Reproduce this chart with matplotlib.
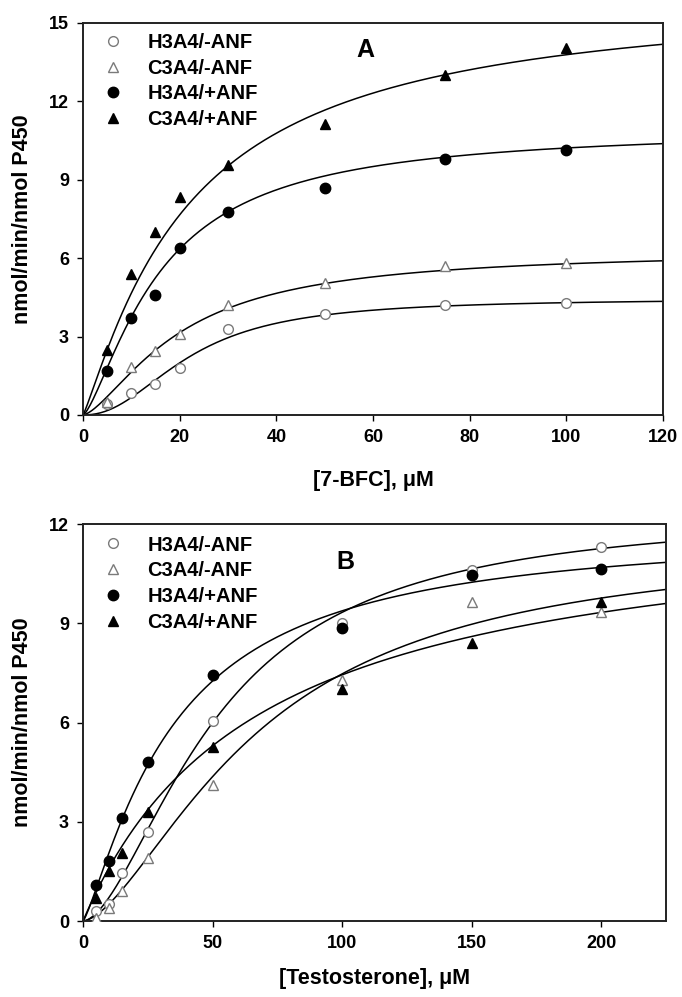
import numpy as np
import matplotlib
matplotlib.use("Agg")
import matplotlib.pyplot as plt

plt.rcParams['font.family'] = ['Liberation Sans', 'DejaVu Sans']
plt.rcParams['font.weight'] = 'bold'

labels = ['H3A4/-ANF', 'C3A4/-ANF', 'H3A4/+ANF', 'C3A4/+ANF']

# panel A: 7-BFC
bfc_x = [5, 10, 15, 20, 30, 50, 75, 100]
bfc_h_minus = [0.4, 0.85, 1.2, 1.8, 3.3, 3.85, 4.2, 4.3]
bfc_c_minus = [0.5, 1.85, 2.45, 3.1, 4.2, 5.05, 5.7, 5.8]
bfc_h_plus = [1.7, 3.7, 4.6, 6.4, 7.75, 8.7, 9.8, 10.15]
bfc_c_plus = [2.5, 5.4, 7.0, 8.35, 9.55, 11.15, 13.0, 14.05]
# Hill fit params (Vmax, S50, n)
bfc_fits = [(4.45, 22, 2.2), (6.3, 20, 1.5), (11.0, 16, 1.4), (16.2, 22, 1.15)]

# panel B: testosterone
tst_x = [5, 10, 15, 25, 50, 100, 150, 200]
tst_h_minus = [0.3, 0.5, 1.45, 2.7, 6.05, 9.0, 10.6, 11.3]
tst_c_minus = [0.1, 0.4, 0.9, 1.9, 4.1, 7.3, 9.65, 9.35]
tst_h_plus = [1.1, 1.8, 3.1, 4.8, 7.45, 8.85, 10.45, 10.65]
tst_c_plus = [0.7, 1.5, 2.05, 3.3, 5.25, 7.0, 8.4, 9.65]
tst_fits = [(12.4, 52, 1.7), (11.5, 68, 1.6), (11.9, 35, 1.25), (12.5, 68, 1.0)]

styles = [dict(marker='o', mfc='white', mec='#7a7a7a', ms=7, mew=1.0),
          dict(marker='^', mfc='white', mec='#7a7a7a', ms=7, mew=1.0),
          dict(marker='o', mfc='black', mec='black', ms=7.5),
          dict(marker='^', mfc='black', mec='black', ms=7.5)]


def hill(s, vmax, k, n):
    return vmax * s**n / (k**n + s**n)


def panel(ax, x, series, fits, xmax, ymax, yticks, xticks, xlabel, letter, letter_xy, leg_top):
    xs = np.linspace(0, xmax, 400)
    for (vm, k, n) in fits:
        ax.plot(xs, hill(xs, vm, k, n), color='black', lw=1.1, zorder=2)
    for y, st, lab in zip(series, styles, labels):
        ax.plot(x, y, ls='none', label=lab, zorder=3, **st)
    ax.set_xlim(0, xmax)
    ax.set_ylim(0, ymax)
    ax.set_xticks(xticks)
    ax.set_yticks(yticks)
    ax.tick_params(direction='out', length=4, width=1, labelsize=13, pad=6)
    for sp in ax.spines.values():
        sp.set_linewidth(1.4)
        sp.set_color('#222222')
    ax.set_xlabel(xlabel, fontsize=15.5, fontweight='bold')
    ax.set_ylabel('nmol/min/nmol P450', fontsize=15.5, fontweight='bold')
    ax.yaxis.set_label_coords(-0.086, 0.5)
    ax.text(letter_xy[0], letter_xy[1], letter, transform=ax.transAxes,
            fontsize=18, fontweight='bold', ha='center', va='center')
    ax.legend(loc='upper left', bbox_to_anchor=(0.0345, leg_top), frameon=False,
              fontsize=14.5, handlelength=1.0, handletextpad=1.2,
              labelspacing=0.34, borderpad=0, borderaxespad=0, numpoints=1)


fig = plt.figure(figsize=(6.82, 9.97), dpi=100)
ax1 = fig.add_axes([0.1217, 0.5838, 0.8504, 0.3932])
ax2 = fig.add_axes([0.1217, 0.0762, 0.8548, 0.3982])

panel(ax1, bfc_x, [bfc_h_minus, bfc_c_minus, bfc_h_plus, bfc_c_plus], bfc_fits,
      120, 15, [0, 3, 6, 9, 12, 15], [0, 20, 40, 60, 80, 100, 120],
      '[7-BFC], μM', 'A', (0.487, 0.93), 0.975)
ax1.xaxis.set_label_coords(0.5, -0.140)

panel(ax2, tst_x, [tst_h_minus, tst_c_minus, tst_h_plus, tst_c_plus], tst_fits,
      225, 12, [0, 3, 6, 9, 12], [0, 50, 100, 150, 200],
      '[Testosterone], μM', 'B', (0.45, 0.905), 0.971)
ax2.xaxis.set_label_coords(0.5, -0.118)

fig.savefig('out.png', dpi=100)
